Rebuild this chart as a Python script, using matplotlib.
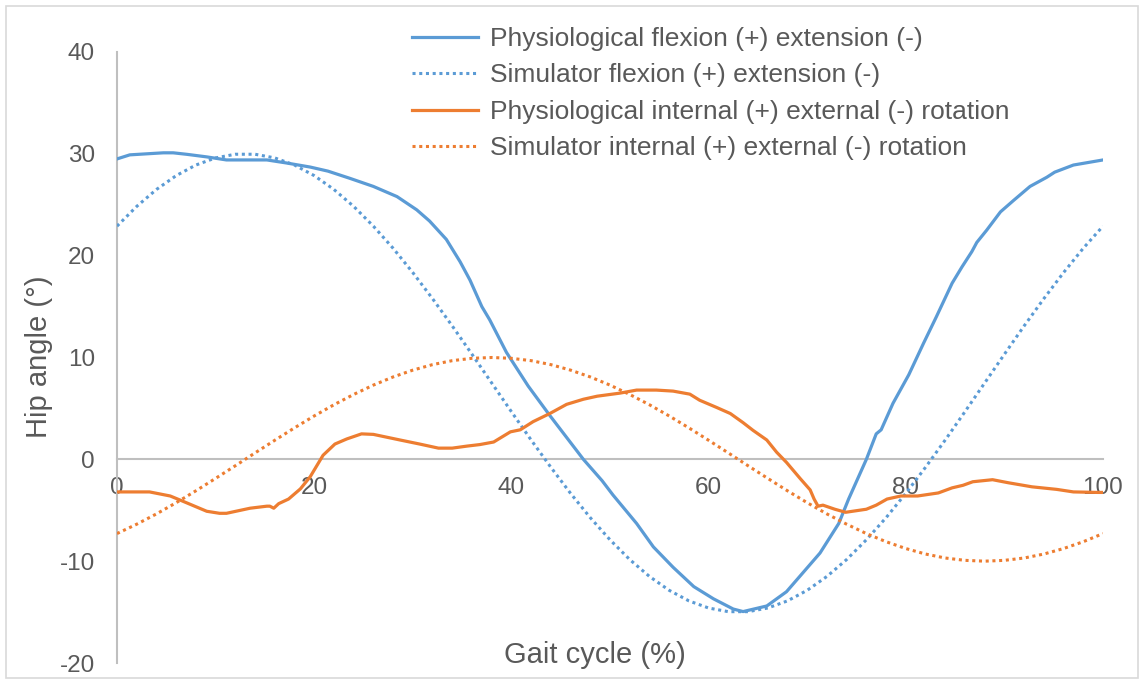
import matplotlib
matplotlib.use("Agg")
import matplotlib.pyplot as plt
from matplotlib.patches import Rectangle

plt.rcParams['font.family'] = ['Liberation Sans', 'DejaVu Sans']

# Gait cycle positions (%) and hip angles (deg)
phys_flex_x = [0, 1.3, 3, 4.7, 5.7, 7.1, 9.1, 11.1, 15.2, 17.2, 19.6, 21.4, 23.6, 26.0,
               28.4, 30.4, 31.7, 33.4, 34.8, 35.8, 37.0, 37.8, 39.5, 41.7, 43.9, 47.3,
               49.2, 50.3, 52.7, 54.4, 56.4, 58.5, 60.5, 62.5, 63.5, 65.9, 67.9, 69.6,
               71.3, 73.2, 74.2, 76.0, 77.0, 77.5, 78.7, 80.3, 81.8, 83.1, 84.7, 85.7,
               86.7, 87.2, 88.2, 89.6, 90.9, 92.6, 94.3, 95.1, 97.0, 100]
phys_flex_y = [29.5, 29.9, 30.0, 30.1, 30.1, 29.95, 29.7, 29.4, 29.4, 29.1, 28.7, 28.3,
               27.6, 26.8, 25.8, 24.5, 23.4, 21.6, 19.4, 17.6, 15.0, 13.7, 10.5, 7.2, 4.3,
               0.0, -2.1, -3.5, -6.3, -8.6, -10.6, -12.5, -13.7, -14.7, -14.95, -14.4,
               -13.0, -11.1, -9.2, -6.3, -3.9, 0.0, 2.5, 2.9, 5.5, 8.3, 11.4, 14.0, 17.3,
               18.9, 20.4, 21.3, 22.5, 24.3, 25.4, 26.8, 27.7, 28.2, 28.9, 29.4]

sim_x = [0, 2, 4, 6, 8, 10, 12, 14, 16, 18, 20, 22, 24, 26, 28, 30, 32, 34, 36, 38, 40,
         42, 44, 46, 48, 50, 52, 54, 56, 58, 60, 62, 64, 66, 68, 70, 72, 74, 76, 78, 80,
         82, 84, 86, 88, 90, 92, 94, 96, 98, 100]
sim_flex_y = [22.90, 24.84, 26.50, 27.86, 28.90, 29.60, 29.96, 29.96, 29.60, 28.90, 27.86,
              26.50, 24.84, 22.90, 20.73, 18.34, 15.78, 13.10, 10.32, 7.50, 4.68, 1.90,
              -0.78, -3.34, -5.73, -7.90, -9.84, -11.50, -12.86, -13.90, -14.60, -14.96,
              -14.96, -14.60, -13.90, -12.86, -11.50, -9.84, -7.90, -5.73, -3.34, -0.78,
              1.90, 4.68, 7.50, 10.32, 13.10, 15.78, 18.34, 20.73, 22.90]

phys_rot_x = [0, 3.3, 5.4, 6.4, 9.1, 10.4, 11.1, 13.5, 15.2, 15.5, 15.9, 16.4, 17.4, 18.6,
              19.6, 20.9, 22.1, 23.3, 24.8, 26.0, 28.7, 30.7, 32.6, 34.0, 35.5, 36.8, 38.2,
              39.9, 40.9, 42.2, 43.9, 45.6, 47.3, 48.7, 51.0, 52.7, 54.7, 56.4, 58.1, 59.1,
              60.8, 62.2, 63.5, 64.5, 65.9, 66.9, 67.9, 69.3, 70.3, 70.7, 71.1, 71.6, 72.8,
              73.9, 76.0, 77.0, 78.1, 79.5, 81.2, 83.3, 84.7, 85.8, 86.8, 88.8, 90.4, 92.8,
              95.3, 97.0, 99.5, 100]
phys_rot_y = [-3.2, -3.2, -3.6, -4.0, -5.1, -5.3, -5.3, -4.8, -4.6, -4.6, -4.8, -4.35, -3.9,
              -2.9, -1.7, 0.4, 1.5, 2.0, 2.5, 2.45, 1.9, 1.5, 1.1, 1.1, 1.3, 1.45, 1.7, 2.7,
              2.9, 3.7, 4.5, 5.4, 5.9, 6.2, 6.5, 6.8, 6.8, 6.7, 6.4, 5.8, 5.1, 4.5, 3.6,
              2.85, 1.9, 0.7, -0.3, -1.9, -3.0, -3.9, -4.6, -4.5, -4.9, -5.2, -4.9, -4.5,
              -3.9, -3.6, -3.6, -3.3, -2.8, -2.55, -2.2, -2.0, -2.3, -2.7, -2.95, -3.2,
              -3.25, -3.25]

sim_rot_y = [-7.29, -6.37, -5.36, -4.26, -3.09, -1.87, -0.63, 0.63, 1.87, 3.09, 4.26, 5.36,
             6.37, 7.29, 8.09, 8.76, 9.30, 9.69, 9.92, 10.0, 9.92, 9.69, 9.30, 8.76, 8.09,
             7.29, 6.37, 5.36, 4.26, 3.09, 1.87, 0.63, -0.63, -1.87, -3.09, -4.26, -5.36,
             -6.37, -7.29, -8.09, -8.76, -9.30, -9.69, -9.92, -10.0, -9.92, -9.69, -9.30,
             -8.76, -8.09, -7.29]

labels = ["Physiological flexion (+) extension (-)",
          "Simulator flexion (+) extension (-)",
          "Physiological internal (+) external (-) rotation",
          "Simulator internal (+) external (-) rotation"]

x_ticks = [0, 20, 40, 60, 80, 100]
y_ticks = [-20, -10, 0, 10, 20, 30, 40]

BLUE = "#5B9BD5"
ORANGE = "#ED7D31"
TEXT = "#595959"
AXIS = "#BFBFBF"

fig = plt.figure(figsize=(11.44, 6.84), dpi=100)
ax = fig.add_axes([117 / 1144, 1 - 663 / 684, (1103 - 117) / 1144, (663 - 52) / 684])

dot = (0, (1, 1.2))
ax.plot(phys_flex_x, phys_flex_y, color=BLUE, lw=2.3, label=labels[0], zorder=3)
ax.plot(sim_x, sim_flex_y, color=BLUE, lw=2.2, ls=dot, label=labels[1], zorder=3)
ax.plot(phys_rot_x, phys_rot_y, color=ORANGE, lw=2.3, label=labels[2], zorder=3)
ax.plot(sim_x, sim_rot_y, color=ORANGE, lw=2.2, ls=dot, label=labels[3], zorder=3)

ax.set_xlim(0, 100)
ax.set_ylim(-20, 40)
ax.set_xticks(x_ticks)
ax.set_yticks(y_ticks)
ax.set_xticklabels([str(v) for v in x_ticks])
ax.set_yticklabels([str(v) for v in y_ticks])

for s in ["top", "right"]:
    ax.spines[s].set_visible(False)
ax.spines["left"].set_color(AXIS)
ax.spines["left"].set_linewidth(1.5)
ax.spines["bottom"].set_position(("data", 0))
ax.spines["bottom"].set_color(AXIS)
ax.spines["bottom"].set_linewidth(1.5)
ax.spines["bottom"].set_zorder(1)
ax.patch.set_visible(False)

ax.tick_params(axis="both", length=0, labelsize=17.5, labelcolor=TEXT)
ax.tick_params(axis="x", pad=13)
ax.tick_params(axis="y", pad=16)

fig.text(39 / 1144, 1 - 357 / 684, "Hip angle (°)", rotation=90, ha="center", va="center",
         fontsize=21, color=TEXT)
fig.text(595 / 1144, 1 - 655 / 684, "Gait cycle (%)", ha="center", va="center",
         fontsize=21, color=TEXT)

leg = ax.legend(loc="upper left", bbox_to_anchor=(412 / 1144, 1 - 27 / 684),
                bbox_transform=fig.transFigure, frameon=False, fontsize=19,
                handlelength=2.5, handletextpad=0.45, labelspacing=0.47,
                borderaxespad=0, borderpad=0)
for t in leg.get_texts():
    t.set_color(TEXT)

fig.patches.append(Rectangle((6 / 1144, 6 / 684), 1132 / 1144, 672 / 684,
                             transform=fig.transFigure, fill=False,
                             edgecolor="#D9D9D9", lw=1.2))

fig.savefig("out.png", dpi=100)
